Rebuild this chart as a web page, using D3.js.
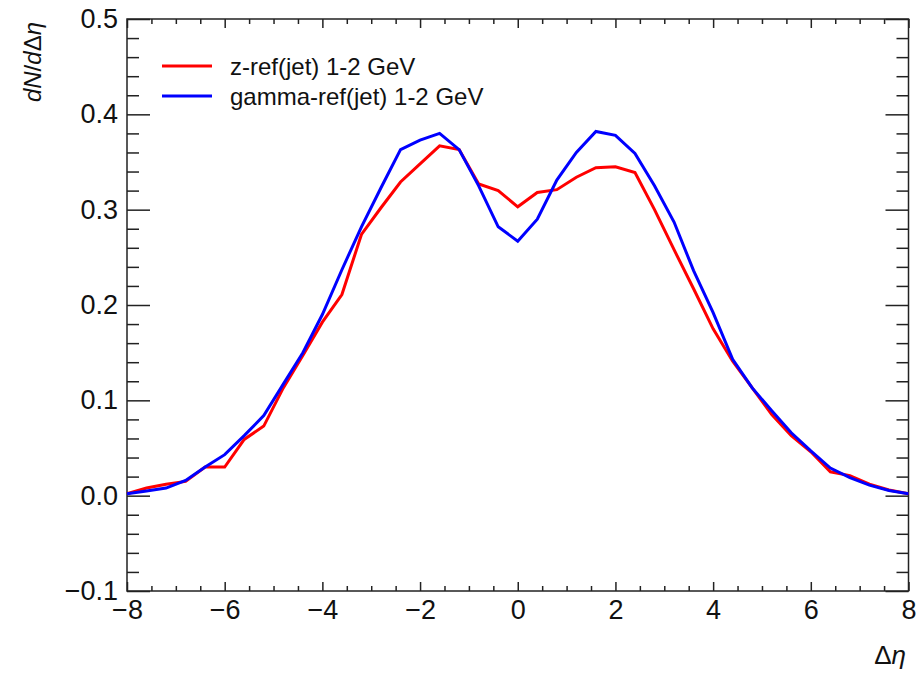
<!DOCTYPE html>
<html>
<head>
<meta charset="utf-8">
<script src="https://cdn.jsdelivr.net/npm/d3@7"></script>
<style>
  html, body { margin: 0; padding: 0; background: #fff; }
  svg { display: block; font-family: "Liberation Sans", Arial, Helvetica, sans-serif; }
</style>
</head>
<body>
<svg id="chart" width="920" height="675"></svg>
<script>
// Δη bin centres
const deta = [-8.0, -7.6, -7.2, -6.8, -6.4, -6.0, -5.6, -5.2, -4.8, -4.4, -4.0, -3.6, -3.2, -2.8,
  -2.4, -2.0, -1.6, -1.2, -0.8, -0.4, 0.0, 0.4, 0.8, 1.2, 1.6, 2.0, 2.4, 2.8, 3.2, 3.6, 4.0,
  4.4, 4.8, 5.2, 5.6, 6.0, 6.4, 6.8, 7.2, 7.6, 8.0];

// dN/dΔη, z-tagged reference
const zRef = [0.002, 0.008, 0.012, 0.015, 0.030, 0.030, 0.059, 0.073, 0.113, 0.147, 0.182, 0.211, 0.274, 0.302,
  0.329, 0.348, 0.367, 0.363, 0.327, 0.320, 0.303, 0.318, 0.321, 0.334, 0.344, 0.345, 0.339, 0.300, 0.258, 0.217, 0.175,
  0.141, 0.113, 0.085, 0.063, 0.046, 0.025, 0.021, 0.012, 0.006, 0.002];

// dN/dΔη, photon-tagged reference
const gammaRef = [0.002, 0.005, 0.008, 0.016, 0.030, 0.043, 0.063, 0.084, 0.117, 0.150, 0.190, 0.237, 0.282, 0.323,
  0.363, 0.373, 0.380, 0.363, 0.325, 0.282, 0.267, 0.290, 0.331, 0.360, 0.382, 0.378, 0.359, 0.325, 0.287, 0.236, 0.192,
  0.143, 0.113, 0.089, 0.066, 0.047, 0.029, 0.019, 0.011, 0.0055, 0.002];

const seriesNames = ["z-ref(jet) 1-2 GeV", "gamma-ref(jet) 1-2 GeV"];
const seriesColors = ["#ff0000", "#0000ff"];

const xMajor = [-8, -6, -4, -2, 0, 2, 4, 6, 8];
const yMajor = [-0.1, 0.0, 0.1, 0.2, 0.3, 0.4, 0.5];

const svg = d3.select("#chart");
const L = 127, R = 908.5, T = 19, B = 591;

const x = d3.scaleLinear().domain([-8, 8]).range([L, R]);
const y = d3.scaleLinear().domain([-0.1, 0.5]).range([B, T]);

const xMinor = d3.range(-8, 8.001, 0.5).map(v => +v.toFixed(2)).filter(v => !xMajor.includes(v));
const yMinor = d3.range(-0.1, 0.5001, 0.02).map(v => +v.toFixed(2)).filter(v => !yMajor.some(m => Math.abs(m - v) < 1e-6));

const axisColor = "#222";
const tickFont = 27;

function styleAxis(g) {
  g.select(".domain").remove();
  g.selectAll(".tick line").attr("stroke", axisColor).attr("stroke-width", 1.5);
  g.selectAll("text").attr("font-size", tickFont).attr("fill", "#111")
    .attr("font-family", "'Liberation Sans', Arial, sans-serif");
}

// bottom axis, ticks pointing inward
svg.append("g").attr("transform", `translate(0,${B})`)
  .call(d3.axisBottom(x).tickValues(xMajor).tickSize(-9).tickPadding(9).tickFormat(d3.format("d")))
  .call(styleAxis);
svg.append("g").attr("transform", `translate(0,${B})`)
  .call(d3.axisBottom(x).tickValues(xMinor).tickSize(-5).tickFormat(""))
  .call(styleAxis);
// top axis mirror
svg.append("g").attr("transform", `translate(0,${T})`)
  .call(d3.axisTop(x).tickValues(xMajor).tickSize(-9).tickFormat(""))
  .call(styleAxis);
svg.append("g").attr("transform", `translate(0,${T})`)
  .call(d3.axisTop(x).tickValues(xMinor).tickSize(-5).tickFormat(""))
  .call(styleAxis);

// left axis
svg.append("g").attr("transform", `translate(${L},0)`)
  .call(d3.axisLeft(y).tickValues(yMajor).tickSize(-23).tickPadding(9).tickFormat(d3.format(".1f")))
  .call(styleAxis);
svg.append("g").attr("transform", `translate(${L},0)`)
  .call(d3.axisLeft(y).tickValues(yMinor).tickSize(-12).tickFormat(""))
  .call(styleAxis);
// right axis mirror
svg.append("g").attr("transform", `translate(${R},0)`)
  .call(d3.axisRight(y).tickValues(yMajor).tickSize(-23).tickFormat(""))
  .call(styleAxis);
svg.append("g").attr("transform", `translate(${R},0)`)
  .call(d3.axisRight(y).tickValues(yMinor).tickSize(-12).tickFormat(""))
  .call(styleAxis);

// frame
svg.append("rect")
  .attr("x", L).attr("y", T).attr("width", R - L).attr("height", B - T)
  .attr("fill", "none").attr("stroke", axisColor).attr("stroke-width", 1.5);

// curves
const line = d3.line().x((d, i) => x(deta[i])).y(d => y(d));
[zRef, gammaRef].forEach((vals, k) => {
  svg.append("path")
    .attr("d", line(vals))
    .attr("fill", "none")
    .attr("stroke", seriesColors[k])
    .attr("stroke-width", 3)
    .attr("stroke-linejoin", "miter");
});

// legend
const legend = svg.append("g");
seriesNames.forEach((name, k) => {
  const ly = 66 + k * 30;
  legend.append("line")
    .attr("x1", 162).attr("x2", 212).attr("y1", ly).attr("y2", ly)
    .attr("stroke", seriesColors[k]).attr("stroke-width", 3);
  legend.append("text")
    .attr("x", 230).attr("y", ly + 8.5)
    .attr("font-size", 24).attr("fill", "#111")
    .text(name);
});

// axis titles
const xt = svg.append("text")
  .attr("x", 906).attr("y", 664).attr("text-anchor", "end")
  .attr("font-size", 26).attr("fill", "#111");
xt.append("tspan").text("Δ");
xt.append("tspan").attr("font-style", "italic").text("η");

const yt = svg.append("text")
  .attr("transform", "translate(41,22) rotate(-90)")
  .attr("text-anchor", "end")
  .attr("font-size", 24).attr("fill", "#111");
yt.append("tspan").attr("font-style", "italic").text("dN");
yt.append("tspan").text("/");
yt.append("tspan").attr("font-style", "italic").text("d");
yt.append("tspan").text("Δ");
yt.append("tspan").attr("font-style", "italic").text("η");
</script>
</body>
</html>
